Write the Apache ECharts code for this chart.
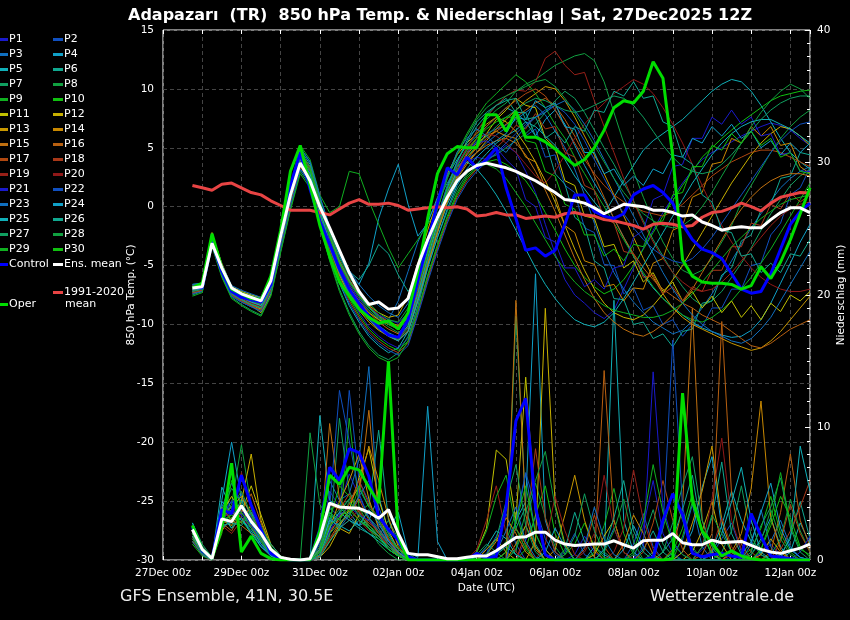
<!DOCTYPE html>
<html>
<head>
<meta charset="utf-8">
<script src="https://cdn.jsdelivr.net/npm/echarts@6.0.0/dist/echarts.min.js"></script>
<style>
  html, body { margin: 0; padding: 0; background: #000; }
  #chart { width: 850px; height: 620px; }
</style>
</head>
<body>
<div id="chart"></div>
<script>
// forecast hours after 27Dec 00z, 6-hourly
const hours = [18,24,30,36,42,48,54,60,66,72,78,84,90,96,102,108,114,120,126,132,138,144,150,156,
  162,168,174,180,186,192,198,204,210,216,222,228,234,240,246,252,258,264,270,276,282,288,294,300,
  306,312,318,324,330,336,342,348,354,360,366,372,378,384,390,396]
const xLabels = ['27Dec 00z','29Dec 00z','31Dec 00z','02Jan 00z','04Jan 00z','06Jan 00z','08Jan 00z','10Jan 00z','12Jan 00z']

// 850 hPa temperature (°C)
const ensMeanTemp = [-6.9,-6.8,-3.1,-5.2,-6.9,-7.4,-7.7,-8.0, -6.3,-2.5,1.0,3.7,2.2,0.0,-1.8,-3.7,
  -5.6,-7.2,-8.3,-8.1,-8.7,-8.6,-7.8,-5.0, -2.8,-0.9,0.8,2.2,3.0,3.5,3.7,3.5,
  3.3,3.0,2.6,2.2,1.7,1.2,0.6,0.5, 0.3,-0.1,-0.6,-0.2,0.2,0.1,0.0,-0.3,
  -0.3,-0.5,-0.8,-0.7,-1.3,-1.6,-2.0,-1.8, -1.7,-1.8,-1.8,-1.1,-0.5,-0.1,-0.1,-0.5]
const controlTemp = [-6.8,-6.9,-3.0,-5.5,-7.2,-7.7,-7.9,-8.1, -6.6,-2.5,1.8,4.6,1.5,-1.2,-3.2,-5.3,
  -7.0,-8.2,-9.3,-10.2,-10.9,-11.1,-9.6,-6.3, -3.0,0.3,3.3,2.7,4.2,3.3,4.0,5.0,
  1.6,-1.0,-3.7,-3.5,-4.2,-3.7,-1.5,1.0, 1.0,-0.4,-0.8,-1.0,-0.6,1.0,1.5,1.8,
  1.2,0.3,-1.5,-2.8,-3.6,-3.9,-4.4,-5.7, -7.0,-7.35,-7.2,-5.7,-3.6,-1.5,-0.4,0.3]
const operTemp = [-6.9,-6.5,-2.3,-5.2,-7.0,-7.4,-7.8,-7.9, -5.9,-2.0,3.0,5.2,1.8,-1.6,-4.2,-6.4,
  -7.6,-8.7,-9.4,-9.9,-9.7,-10.4,-9.0,-5.5, -1.0,2.8,4.5,5.1,5.0,5.0,7.8,7.8,
  6.4,8.1,5.9,5.9,5.5,4.9,4.2,3.5, 4.0,5.0,6.5,8.4,9.0,8.8,9.8,12.3,
  10.9,4.3,-4.5,-5.9,-6.4,-6.5,-6.5,-6.6, -7.0,-6.7,-5.1,-6.1,-4.7,-2.8,-0.6,1.6]
const climTemp = [1.8,1.6,1.4,1.9,2.0,1.6,1.2,1.0, 0.5,0.1,-0.3,-0.3,-0.3,-0.5,-0.7,-0.2,
  0.3,0.6,0.2,0.2,0.3,0.1,-0.3,-0.2, -0.1,0.0,-0.1,0.0,-0.2,-0.8,-0.7,-0.5,
  -0.7,-0.7,-1.0,-0.9,-0.8,-0.9,-0.6,-0.5, -0.7,-0.8,-1.1,-1.2,-1.4,-1.6,-1.9,-1.5,
  -1.4,-1.5,-1.7,-1.6,-0.9,-0.5,-0.4,-0.1, 0.3,0.0,-0.35,0.3,0.8,1.0,1.2,1.15]

const tP1 = [-7.2,-7.0,-3.0,-5.6,-7.3,-7.8,-8.1,-8.4, -6.8,-3.0,0.5,3.5,2.4,-0.8,-3.5,-5.8, -7.6,-9.0,-10.2,-11.0,-11.6,-12.0,-11.2,-8.5, -5.0,-2.0,0.8,2.5,3.8,4.2,4.0,4.5, 5.2,4.6,3.0,1.2,-1.5,-4.0,-6.2,-7.5, -8.2,-9.0,-9.5,-8.8,-7.0,-5.2,-3.5,-2.0, -0.5,0.8,2.0,3.1,4.0,4.6,5.0,5.5, 6.0,6.4,6.8,7.1,6.9,6.5,5.8,5.2]
const tP2 = [-6.8,-6.6,-2.6,-5.0,-6.9,-7.4,-7.6,-7.9, -6.2,-2.2,1.2,4.5,3.3,0.2,-2.6,-5.0, -6.8,-8.0,-8.8,-9.5,-10.0,-10.4,-9.6,-7.0, -4.0,-1.0,1.5,3.2,4.5,5.6,6.2,6.6, 6.9,7.8,6.0,6.6,4.2,4.4,1.8,1.2, -1.8,-2.2,-4.9,-5.0,-7.4,-6.9,-8.8,-8.4, -10.0,-9.6,-11.0,-10.0,-10.2,-8.6,-8.6,-7.0, -7.0,-5.0,-4.8,-2.4,-1.4,1.0,1.6,3.3]
const tP3 = [-7.0,-6.9,-2.9,-5.5,-7.2,-7.6,-8.0,-8.3, -6.6,-2.6,1.0,4.2,3.0,-0.3,-3.0,-5.3, -7.0,-8.3,-9.2,-10.0,-9.6,-8.0,-5.5,-3.0, -1.2,0.5,2.0,3.4,4.0,4.6,5.4,6.1, 6.7,7.4,8.0,8.6,7.8,6.4,5.0,3.2, 1.0,-1.4,-3.8,-5.6,-7.0,-8.1,-9.0,-9.8, -10.3,-10.8,-10.5,-9.7,-8.6,-7.4,-6.0,-4.6, -3.2,-1.8,-0.6,0.5,1.6,2.4,3.0,3.4]
const tP4 = [-6.9,-6.8,-2.5,-5.2,-7.0,-7.5,-7.8,-8.0, -6.4,-2.4,1.4,4.8,3.6,0.5,-2.2,-4.2, -5.8,-6.6,-4.8,-1.0,1.5,3.6,0.2,-2.5, -1.4,0.8,2.6,4.0,5.2,6.0,6.8,7.6, 8.4,8.0,7.2,6.0,7.4,8.2,7.0,5.2, 3.5,2.0,0.6,-1.0,-2.6,-4.2,-5.8,-6.9, -7.8,-8.5,-9.2,-9.8,-10.3,-10.6,-10.9,-11.1, -11.0,-10.5,-9.6,-8.2,-6.5,-4.8,-3.0,-1.5]
const tP5 = [-7.3,-7.2,-3.2,-5.8,-7.6,-8.1,-8.5,-8.8, -7.2,-3.5,0.2,3.2,2.0,-1.2,-4.0,-6.5, -8.4,-9.8,-11.0,-11.8,-12.4,-12.0,-10.6,-7.8, -4.8,-2.2,0.2,2.0,3.0,3.6,4.5,5.4, 6.0,6.5,7.2,6.8,6.0,5.2,4.0,2.6, 1.5,0.4,-0.6,0.8,2.2,3.5,4.8,5.6, 6.2,6.8,7.4,8.2,9.0,9.8,10.4,10.8, 10.6,9.8,8.6,7.2,5.8,4.6,3.8,3.2]
const tP6 = [-6.6,-6.5,-2.3,-4.9,-6.8,-7.2,-7.5,-7.8, -6.0,-2.0,1.6,5.0,3.8,0.8,-1.8,-4.0, -5.5,-6.2,-5.0,-3.2,-4.0,-5.8,-7.2,-6.0, -3.5,-0.8,1.8,3.8,5.6,7.2,8.0,8.6, 9.2,8.0,8.0,6.0,5.6,2.8,1.9,-0.9, -1.6,-4.6,-5.2,-7.8,-7.9,-10.0,-9.8,-11.2, -10.8,-11.9,-10.6,-10.4,-8.2,-8.0,-5.8,-5.2, -2.9,-2.4,-0.3,0.2,2.4,2.6,4.6,4.4]
const tP7 = [-7.5,-7.2,-3.3,-5.9,-7.7,-8.3,-8.8,-9.2, -7.5,-3.8,-0.2,3.0,1.8,-1.5,-4.5,-7.0, -9.0,-10.6,-11.8,-12.6,-13.0,-12.4,-11.0,-8.4, -5.2,-2.6,-0.4,1.5,2.8,3.6,4.0,4.4, 5.0,5.6,6.2,7.0,8.0,9.0,9.8,9.2, 8.0,6.5,5.0,3.6,2.0,0.5,-1.2,-2.8, -4.2,-5.6,-6.8,-7.8,-8.4,-8.0,-7.2,-6.0, -4.8,-3.5,-2.0,-0.6,0.6,1.8,2.6,3.2]
const tP8 = [-7.0,-6.7,-2.7,-5.3,-7.1,-7.6,-8.0,-8.3, -6.6,-2.7,0.8,4.0,2.8,-0.2,-2.8,-5.0, -6.6,-7.8,-8.8,-9.6,-10.2,-10.7,-10.0,-7.4, -4.2,-1.2,1.4,3.5,5.0,6.4,7.4,8.2, 8.8,9.8,10.4,10.8,11.4,12.0,12.4,12.8, 13.0,12.4,10.6,8.0,5.4,3.0,0.8,-1.2, -3.0,-4.4,-5.4,-5.8,-5.4,-4.4,-3.0,-1.6, 0.4,1.8,3.2,4.6,5.8,6.8,7.6,8.2]
const tP9 = [-6.8,-6.6,-2.4,-5.0,-6.9,-7.3,-7.6,-7.9, -6.1,-2.0,1.6,5.2,4.0,1.0,-0.5,0.0, 3.0,2.8,0.5,-1.5,-3.5,-5.2,-4.0,-2.8, -1.5,-0.2,2.4,4.6,6.2,7.6,8.8,9.6, 10.4,11.2,10.6,9.6,8.4,7.0,5.8,4.2, 2.8,1.4,0.0,-1.4,-2.8,-4.2,-5.6,-6.8, -7.8,-8.6,-9.2,-9.6,-9.8,-9.4,-8.8,-8.0, -7.0,-6.0,-4.8,-3.6,-2.2,-0.8,0.6,2.0]
const tP10 = [-7.1,-6.9,-2.9,-5.5,-7.3,-7.8,-8.2,-8.6, -7.0,-3.2,0.4,3.6,2.4,-0.8,-3.6,-6.0, -7.8,-9.2,-10.4,-11.2,-11.8,-12.2,-11.4,-8.8, -6.0,-3.4,-1.0,1.0,2.4,3.3,3.8,4.0, 3.6,3.0,2.2,1.0,-0.5,-2.0,-3.6,-5.0, -6.0,-6.8,-7.4,-7.0,-6.2,-5.0,-3.6,-2.2, -0.8,0.5,1.8,3.0,4.2,5.0,5.8,6.5, 7.2,7.8,8.4,9.0,9.4,9.6,9.8,9.9]
const tP11 = [-7.0,-6.8,-2.2,-5.0,-7.2,-7.8,-8.4,-9.0, -7.4,-3.4,0.2,3.4,2.2,-0.6,-3.2,-5.4, -7.0,-8.2,-9.0,-9.6,-10.0,-10.3,-9.4,-6.6, -3.8,-1.0,1.2,3.0,4.2,5.0,6.2,7.4, 8.2,9.2,8.6,8.4,5.8,5.0,2.2,1.8, -0.8,-1.0,-3.4,-3.2,-5.2,-4.6,-6.4,-5.6, -7.2,-6.4,-8.0,-7.2,-8.6,-7.6,-9.0,-8.0, -9.4,-8.4,-9.6,-8.2,-8.9,-7.5,-8.0,-7.2]
const tP12 = [-6.7,-6.6,-2.4,-4.8,-6.8,-7.2,-7.5,-7.7, -6.0,-2.3,1.4,4.6,3.4,0.4,-2.4,-4.6, -6.2,-7.4,-8.4,-9.0,-9.4,-9.2,-7.6,-4.8, -2.0,0.6,2.8,4.4,5.4,6.2,7.0,7.6, 7.2,6.4,5.2,3.8,2.2,0.4,-1.6,-3.6, -5.4,-7.0,-8.2,-9.0,-9.4,-9.6,-9.2,-8.4, -7.4,-6.2,-5.0,-3.6,-2.2,-0.8,0.6,2.0, 3.2,4.4,5.4,6.2,6.8,6.6,6.0,5.2]
const tP13 = [-7.4,-7.1,-3.1,-5.7,-7.5,-8.0,-8.4,-8.7, -7.0,-3.2,0.4,3.6,2.5,-0.6,-3.4,-5.8, -7.6,-8.8,-9.8,-10.5,-11.0,-11.3,-10.6,-8.0, -5.0,-2.2,0.4,2.4,3.6,4.6,5.6,6.6, 7.4,8.2,9.0,9.6,10.2,10.0,9.0,7.6, 6.0,4.4,2.8,1.0,-0.8,-2.6,-4.4,-6.0, -7.4,-8.6,-9.4,-10.0,-10.4,-10.8,-11.2,-11.6, -11.9,-12.2,-12.0,-11.4,-10.6,-9.6,-8.6,-7.6]
const tP14 = [-6.9,-6.8,-2.7,-5.3,-7.0,-7.5,-7.9,-8.2, -6.5,-2.6,1.0,4.2,3.0,0.0,-2.6,-4.8, -6.4,-7.6,-8.6,-9.2,-9.8,-10.1,-9.0,-6.4, -3.6,-1.0,1.2,3.0,4.4,5.4,6.0,6.4, 6.0,5.8,4.2,3.8,1.6,0.9,-1.6,-2.2, -4.6,-4.9,-6.8,-6.6,-8.0,-6.9,-7.0,-4.8, -4.4,-2.0,-1.6,0.8,1.2,3.6,3.8,5.8, 5.4,6.8,6.0,6.8,5.2,5.4,3.4,2.8]
const tP15 = [-7.2,-7.0,-3.0,-5.6,-7.4,-7.9,-8.3,-8.6, -6.9,-3.0,0.6,3.8,2.6,-0.5,-3.3,-5.6, -7.3,-8.5,-9.6,-10.4,-11.0,-11.4,-10.5,-7.8, -4.8,-2.0,0.6,2.6,3.8,4.6,5.2,5.6, 5.8,5.4,4.4,3.0,1.4,-0.4,-2.4,-4.4, -6.2,-7.8,-9.0,-9.8,-10.4,-10.8,-11.0,-10.6, -10.0,-9.2,-8.2,-7.0,-5.6,-4.2,-2.8,-1.4, -0.2,0.8,1.6,2.2,2.6,2.8,2.8,2.6]
const tP16 = [-7.0,-6.9,-2.8,-5.4,-7.2,-7.7,-8.1,-8.4, -6.7,-2.8,0.8,4.0,2.8,-0.2,-3.0,-5.2, -6.8,-8.0,-9.0,-9.8,-10.4,-10.8,-9.8,-7.2, -4.4,-1.6,0.8,2.8,4.0,5.0,5.8,6.4, 7.0,7.6,8.2,8.8,9.2,8.6,7.4,6.0, 4.4,2.6,0.8,-1.0,-2.6,-4.0,-5.2,-6.2, -7.0,-7.6,-8.2,-8.6,-9.2,-9.6,-10.0,-10.6, -11.2,-11.8,-12.0,-11.6,-11.0,-10.4,-10.0,-9.6]
const tP17 = [-6.8,-6.6,-2.5,-5.1,-6.9,-7.4,-7.7,-8.0, -6.3,-2.4,1.2,4.4,3.2,0.2,-2.4,-4.6, -6.2,-7.4,-8.4,-9.2,-9.8,-10.2,-9.4,-6.8, -4.0,-1.4,1.0,3.0,4.6,5.8,6.8,7.6, 8.4,9.0,9.6,10.0,9.4,8.2,6.8,5.4, 4.0,2.8,1.8,1.0,0.4,0.0,-0.4,-0.6, -0.8,-0.4,0.2,1.0,1.8,2.6,3.2,3.8, 4.2,4.6,4.8,4.8,4.6,4.2,3.8,3.4]
const tP18 = [-7.3,-7.1,-3.1,-5.7,-7.5,-8.0,-8.4,-8.8, -7.1,-3.3,0.3,3.4,2.2,-1.0,-3.8,-6.2, -8.0,-9.4,-10.6,-11.4,-12.0,-12.4,-11.6,-9.0, -6.2,-3.6,-1.2,0.8,2.2,3.2,4.2,5.0, 5.8,6.9,6.6,7.9,6.6,6.8,4.6,4.2, 1.8,1.4,-1.0,-1.4,-3.8,-4.0,-6.0,-5.8, -7.4,-6.8,-8.0,-6.8,-7.2,-5.4,-5.4,-3.4, -3.4,-1.4,-1.6,0.2,-0.2,1.2,0.4,1.0]
const tP19 = [-7.1,-6.9,-2.9,-5.5,-7.3,-7.8,-8.2,-8.5, -6.8,-2.9,0.7,3.9,2.7,-0.4,-3.2,-5.5, -7.2,-8.4,-9.4,-10.2,-10.8,-11.2,-10.2,-7.4, -4.4,-1.6,1.2,3.4,5.0,6.4,7.6,8.6, 9.4,9.9,9.8,10.6,12.6,13.2,12.0,11.2, 11.4,9.0,6.8,4.6,2.4,0.4,-1.4,-3.0, -4.4,-5.6,-6.4,-7.0,-7.2,-7.0,-6.4,-5.6, -4.6,-3.6,-2.6,-1.6,-0.8,-0.2,0.2,0.4]
const tP20 = [-6.9,-6.7,-2.6,-5.2,-7.0,-7.5,-7.8,-8.1, -6.4,-2.5,1.1,4.3,3.1,0.1,-2.6,-4.8, -6.4,-7.6,-8.6,-9.4,-10.0,-10.4,-9.4,-6.8, -4.0,-1.2,1.4,3.6,5.0,5.8,6.2,6.0, 5.4,4.6,3.6,2.6,2.0,3.0,4.4,5.8, 7.0,8.0,8.8,9.6,10.2,10.8,10.4,9.6, 8.4,7.0,5.4,3.6,1.8,0.0,-1.6,-3.0, -4.2,-5.2,-6.0,-6.6,-7.0,-7.2,-7.2,-7.0]
const tP21 = [-7.0,-6.8,-2.7,-5.3,-7.1,-7.6,-7.9,-8.2, -6.6,-2.7,0.9,4.1,2.9,-0.1,-2.8,-5.0, -6.6,-7.8,-8.6,-9.2,-9.6,-9.9,-9.0,-6.4, -3.6,-0.8,1.6,3.6,4.8,5.4,5.6,5.0, 4.0,3.2,0.6,0.0,-2.6,-3.0,-5.2,-5.2, -6.8,-6.2,-7.0,-5.2,-5.0,-2.6,-2.0,0.6, 1.0,3.4,3.6,5.8,5.8,7.6,7.0,8.2, 7.0,7.6,6.0,6.2,4.4,4.6,3.0,3.0]
const tP22 = [-7.4,-7.2,-3.2,-5.8,-7.6,-8.1,-8.5,-8.9, -7.3,-3.5,0.1,3.2,2.0,-1.2,-4.0,-6.4, -8.2,-9.6,-10.8,-11.6,-12.2,-12.6,-11.8,-9.2, -6.4,-3.8,-1.4,0.6,2.0,3.0,3.8,4.6, 5.4,6.2,7.0,7.6,8.2,8.6,8.0,7.0, 5.6,4.0,2.4,0.8,-0.6,-1.8,-2.8,-3.6, -4.2,-4.6,-4.8,-4.4,-3.6,-2.6,-1.4,-0.2, 1.0,2.2,3.4,4.6,5.6,6.4,7.0,7.2]
const tP23 = [-6.6,-6.5,-2.3,-4.9,-6.7,-7.1,-7.4,-7.7, -5.9,-2.0,1.7,5.0,3.8,0.9,-1.7,-3.8, -5.4,-6.6,-7.6,-8.4,-9.0,-9.4,-8.2,-5.4, -2.6,0.2,2.6,4.6,5.8,6.6,6.0,5.2, 4.6,5.8,6.8,7.6,8.0,8.6,9.0,8.2, 7.0,5.6,4.0,2.4,0.8,-0.8,-2.4,-4.0, -5.6,-7.0,-8.2,-9.2,-10.0,-10.6,-11.0,-11.4, -11.6,-11.2,-10.4,-9.4,-8.0,-6.6,-5.2,-3.8]
const tP24 = [-7.1,-7.0,-3.0,-5.6,-7.4,-7.9,-8.3,-8.6, -6.9,-3.0,0.6,3.8,2.6,-0.5,-3.3,-5.6, -7.4,-8.6,-9.6,-10.4,-11.0,-11.4,-10.6,-8.0, -5.2,-2.6,-0.2,1.8,3.2,4.2,5.0,5.6, 6.2,7.6,7.4,9.0,8.4,8.8,6.8,6.6, 4.6,4.6,2.8,3.2,1.8,2.6,1.8,3.2, 2.8,4.4,4.2,5.8,5.4,6.8,6.0,7.0, 5.8,6.4,5.0,5.6,4.4,5.4,4.6,5.4]
const tP25 = [-7.0,-6.9,-2.8,-5.4,-7.2,-7.7,-8.1,-8.4, -6.8,-2.8,0.8,4.0,2.8,-0.3,-3.1,-5.4, -7.1,-8.3,-9.3,-10.1,-10.7,-11.1,-10.1,-7.4, -4.4,-1.4,1.2,3.0,3.8,3.2,2.2,1.0, -0.4,-2.0,-3.6,-5.2,-6.6,-7.8,-8.8,-9.6, -10.0,-10.2,-9.8,-9.0,-7.8,-6.4,-5.0,-3.6, -2.2,-0.8,0.6,2.0,3.2,4.4,5.4,6.2, 6.8,7.2,7.4,7.4,7.0,6.6,6.0,5.4]
const tP26 = [-6.9,-6.8,-2.6,-5.2,-7.0,-7.4,-7.8,-8.1, -6.4,-2.5,1.1,4.3,3.1,0.2,-2.5,-4.7, -6.3,-7.5,-8.5,-9.3,-9.9,-10.3,-9.3,-6.6, -3.8,-1.0,1.6,3.8,5.4,6.8,7.8,8.6, 9.0,9.2,7.4,7.6,5.8,6.4,5.4,6.8, 6.4,8.2,8.0,9.8,9.4,10.6,9.2,9.4, 7.2,6.8,4.2,3.6,1.0,0.4,-2.0,-2.2, -4.2,-4.0,-5.6,-4.8,-5.6,-4.0,-4.2,-2.8]
const tP27 = [-7.2,-7.0,-3.0,-5.6,-7.4,-7.9,-8.3,-8.6, -6.9,-3.0,0.6,3.8,2.6,-0.5,-3.3,-5.6, -7.3,-8.5,-9.5,-10.3,-10.9,-11.3,-10.3,-7.6, -4.6,-1.8,0.8,2.8,4.2,5.2,6.0,6.8, 7.6,8.2,8.8,9.2,9.0,8.6,8.2,8.0, 8.2,8.6,9.0,9.4,9.2,8.6,7.6,6.4, 5.2,4.2,3.4,3.0,2.8,3.0,3.6,4.4, 5.4,6.4,7.4,8.2,8.8,9.2,9.4,9.4]
const tP28 = [-6.8,-6.6,-2.5,-5.1,-6.9,-7.3,-7.6,-7.9, -6.2,-2.2,1.4,4.6,3.4,0.5,-2.2,-4.4, -6.0,-7.2,-8.2,-9.0,-9.6,-9.8,-8.6,-5.8, -3.0,-0.2,2.4,4.4,6.0,7.4,8.4,9.0, 9.4,9.8,10.2,10.6,10.8,10.2,9.2,8.0, 6.6,5.2,3.8,2.4,1.2,0.2,-0.6,-1.2, -1.6,-1.8,-1.6,-1.0,0.0,1.2,2.6,4.0, 5.4,6.8,8.0,9.0,9.8,10.4,10.0,9.2]
const tP29 = [-7.6,-7.3,-3.4,-6.0,-7.8,-8.4,-8.9,-9.3, -7.6,-3.9,-0.3,2.8,1.6,-1.6,-4.6,-7.2, -9.2,-10.8,-12.0,-12.8,-13.2,-12.8,-11.4,-8.8, -5.8,-3.2,-0.8,1.2,2.6,3.4,3.6,3.2, 2.4,1.2,0.0,-1.4,-2.8,-4.2,-5.4,-6.4, -7.2,-7.8,-8.4,-8.8,-9.0,-9.2,-9.4,-9.4, -9.2,-8.8,-8.2,-7.4,-6.4,-5.4,-4.4,-3.4, -2.6,-1.8,-1.0,-0.4,0.2,0.6,0.8,1.0]
const tP30 = [-6.9,-6.7,-2.6,-5.2,-7.0,-7.5,-7.8,-8.1, -6.4,-2.5,1.1,4.3,3.1,0.1,-2.6,-4.8, -6.4,-7.6,-8.6,-9.4,-10.0,-10.4,-9.4,-6.8, -4.0,-1.2,1.4,3.4,4.8,5.8,6.6,7.2, 7.6,7.6,5.6,5.4,3.0,2.6,0.2,-0.2, -2.4,-2.4,-4.2,-3.6,-4.6,-3.2,-3.4,-1.4, -1.2,1.0,1.2,3.4,3.4,5.2,4.8,6.2, 5.4,6.4,5.2,5.8,4.2,4.6,3.0,2.8]

// 6-hourly precipitation (mm)
const ensMeanPrecip = [2.3,0.8,0.1,3.1,2.9,4.1,2.9,2.0,0.8,0.2, 0.05,0,0.1, 1.7,4.3,4.0,3.95,3.9,3.6,3.15,3.8,2.0,0.5,
  0.4,0.4,0.25,0.1,0.1,0.2,0.3,0.3,0.7, 1.2,1.7,1.75,2.1,2.1,1.5,1.2,1.1, 1.15,1.2,1.2,1.45,1.15,0.9,1.45,1.5,
  1.5,2.0,1.3,1.15,1.15,1.5,1.3,1.35, 1.4,1.1,0.8,0.6,0.5,0.7,0.9,1.2]
const controlPrecip = [2.5,0.7,0.1,3.8,3.5,6.4,4.15,2.3,0.5,0.1, 0,0,0, 2.3,7.0,6.0,8.4,8.1,6.3,3.3,2.3,1.5,0.25,
  0,0,0,0,0,0,0.5,0.1,0.3, 4.0,10.5,12.2,4.0,0.4,0,0,0, 0,0,0,0,0,0,0,0.2,
  3.0,5.0,3.4,0.5,0.25,0.4,0.5,0.3, 0.2,3.5,1.8,0.3,0.2,0.1,0,0]
const operPrecip = [2.6,0.8,0.1,2.5,7.3,0.6,1.8,0.5,0.1,0, 0,0,0, 2.2,6.4,5.7,7.0,6.8,5.5,4.3,15.0,1.8,0,
  0,0,0,0,0,0,0,0,0, 0,0,0,0,0,0,0,0, 0,0,0,0,0,0,0,0,
  0,0.1,12.6,4.5,2.2,1.3,0.3,0.7, 0.3,0.1,0,0,0,0,0,0]

const rP1 = [2.2,0.6,0,3.0,4.5,3.8,2.6,1.2,0.3,0, 0,0,0, 1.0,5.2,4.0,6.5,4.8,3.2,2.0,1.2,0.4,0, 0,0,0,0,0,0,0.3,0.8,0.2, 0,0,1.5,3.2,0.8,0,0,0.4, 1.8,0.6,0,0,0,0,2.5,6.0, 2.0,0.5,0,0,0.8,1.5,0.3,0, 0,0,0.5,1.2,0.4,0,0,0]
const rP2 = [1.8,0.4,0,2.6,3.6,5.0,3.2,1.8,0.6,0.1, 0,0,0, 0.6,4.0,3.2,12.8,6.0,4.4,2.6,1.8,0.8,0.2, 0,0,0,0,0,0,0,0.5,1.8, 3.5,1.2,0,0,0,0,0.6,2.0, 0.4,0,0,0,0,1.2,3.5,1.0, 0,0,0,0,0,0.4,1.6,2.8, 0.6,0,0,0,0.3,0.8,0.2,0]
const rP3 = [2.6,0.9,0.1,4.0,5.8,4.2,3.0,1.6,0.5,0, 0,0,0, 2.2,6.0,4.5,5.0,7.6,14.6,3.0,1.5,0.6,0.1, 0,0,0,0,0,0,0,0,0.4, 1.2,2.8,6.5,2.0,0.4,0,0,0, 0,0,0.8,2.4,0.6,0,0,0, 0,0.5,1.5,4.2,1.0,0,0,0, 0,0,0.6,1.4,3.0,1.0,0.2,0]
const rP4 = [2.0,0.5,0,4.5,8.9,4.6,2.6,1.4,0.3,0, 0,0,0, 1.4,3.6,2.6,3.6,2.6,3.0,4.8,2.2,3.6,0.6, 0.2,11.6,1.4,0,0,0,0,0,0, 0,3.0,4.4,21.6,3.0,0.6,0,0, 0,1.0,0.4,0,0,0,0,0, 0,0,0.6,2.2,5.5,7.8,2.4,0.6, 0,0.4,1.6,3.2,1.0,0,0,0]
const rP5 = [2.4,0.8,0.1,5.5,3.8,3.0,2.2,1.0,0.4,0, 0,0,0, 10.9,4.5,4.0,3.2,2.6,2.0,1.4,0.8,0.3,0, 0,0,0,0,0,0,0.2,1.0,2.2, 1.6,0.4,0,0,0,0,0,0, 0,0,0,19.6,3.0,0.6,0,0, 0,0,0,0,0,0.8,2.6,5.2, 3.0,1.4,0.4,0,0,0.6,2.8,1.2]
const rP6 = [1.6,0.5,0,2.4,3.0,4.6,3.6,1.8,0.5,0, 0,0,0, 0.4,2.8,3.6,4.6,5.4,4.0,9.8,3.0,1.2,0.2, 0,0,0,0,0,0,0,0,0, 0.6,2.4,4.0,1.2,0,0,0.8,3.6, 1.4,0.2,0,0,0,0,0.8,2.2, 0.6,0,0,0,1.0,3.2,7.4,2.0, 0.4,0,0,0,0.2,1.8,4.4,1.6]
const rP7 = [2.8,1.2,0.2,3.4,2.4,4.0,3.0,2.2,1.0,0.2, 0,0,0, 0.2,1.8,10.7,5.2,3.6,2.4,1.8,3.0,1.6,0.5, 0,0,0,0,0,0,0.4,1.2,0.6, 0,18.4,4.0,1.0,0,0,0,0, 0,0,0,0,0,0.4,1.6,3.8, 1.2,0.3,0,0,0,0,0.6,2.2, 5.6,1.8,0.4,0,0,0,0,0]
const rP8 = [2.0,0.6,0,3.2,4.2,8.7,4.0,1.6,0.4,0, 0,0,9.6, 4.2,3.0,3.8,4.6,3.2,2.4,1.2,0.5,0,0, 0,0,0,0,0,0,0,0,0, 0,0.8,2.6,5.8,3.2,1.0,0,0, 0,0,0,0,0,0,0,0.6, 2.4,5.0,3.0,1.0,0,0,0,0, 0,0,0,0.4,1.6,4.6,2.2,0.6]
const rP9 = [2.4,0.8,0.1,2.8,3.4,3.0,2.0,1.2,0.4,0, 0,0,0, 1.6,3.4,2.2,10.7,4.0,2.6,2.0,1.6,0.8,0.3, 0,0,0,0,0,0,0,0,0.5, 1.4,3.6,1.0,0,0,0,0,0, 0,0.6,2.6,5.4,2.0,0.4,0,0, 0,0,1.8,4.4,2.0,0.4,0,0, 0,0,0,0,0,0,0,0]
const rP10 = [1.2,0.3,0,2.0,6.0,4.0,2.8,1.8,0.8,0.1, 0,0,0, 0.8,3.0,5.6,4.8,3.6,4.2,3.2,2.0,0.8,0.2, 0,0,0,0,0,0,0,0,0, 0,0,0.8,3.4,5.6,2.0,0.4,1.2, 2.8,1.0,0.2,0,0,0,0,0, 0,0,0,0,0,0,0,0, 0.3,0.8,2.4,4.8,2.0,0.6,0,0]
const rP11 = [2.2,0.7,0.1,3.6,4.8,3.6,5.6,3.4,1.2,0.3, 0,0,0, 0.3,1.4,2.6,3.8,6.2,8.4,4.6,2.2,0.8,0.2, 0,0,0,0,0,0,0.6,2.4,8.3, 7.6,3.0,13.8,3.4,0.8,0,0,0, 0,0.4,1.8,3.0,0.6,0,0,0, 0,0,0,0,0,0,0,0, 0,0,0,0,0,0,0,0]
const rP12 = [1.8,0.5,0,3.0,2.6,4.4,8.0,3.0,1.0,0.2, 0,0,0, 0.2,1.0,2.4,2.0,3.4,2.6,1.8,1.0,0.4,0, 0,0,0,0,0,0,0,0.8,1.6, 0.6,0,0,1.4,19.0,4.2,1.2,0, 0,0,0,0,0,0,0,0, 0,0,0,0.6,2.2,4.4,1.2,0, 0,0,0,0,0,0,0,0]
const rP13 = [2.0,0.6,0,3.4,4.0,4.8,3.4,1.8,0.6,0, 0,0,0, 0.6,2.4,4.4,6.0,8.0,4.6,2.4,1.2,0.5,0.1, 0,0,0,0,0,0,0,0,0, 0,1.2,2.6,1.0,0,0.8,3.4,6.4, 3.0,0.8,0,0,0,0,0,0, 0,0,0.6,2.8,5.2,8.6,3.0,0.6, 0,0,0.4,1.6,0.6,0,0,0]
const rP14 = [1.4,0.4,0,2.2,3.2,2.8,4.2,2.2,0.8,0.1, 0,0,0, 0.4,2.0,3.2,4.2,5.6,8.6,6.0,3.2,1.0,0.2, 0,0,0,0,0,0,0,0.4,1.4, 3.2,2.0,0.6,0,0,0,0,0, 0,0,0,0,1.2,3.4,2.0,0.4, 0,0,0,0,0,0,0,0.6, 2.0,5.4,12.0,3.2,0.8,0,0,0]
const rP15 = [2.6,1.0,0.2,4.0,3.0,2.6,2.0,1.6,0.6,0, 0,0,0, 0.8,10.3,4.6,3.6,4.8,11.3,3.4,1.6,0.6,0, 0,0,0,0,0,0,0,0,0, 0,19.6,3.4,0.8,0,0,0,0, 0,0,0,0,0,0,0,0, 0,0.8,4.0,19.0,3.0,0.6,0,0, 0,0,0,0,0,0,0,0]
const rP16 = [1.6,0.5,0,2.8,2.2,3.6,5.0,2.8,1.0,0.2, 0,0,0, 0.3,1.6,2.8,3.4,4.6,3.0,2.0,1.0,0.3,0, 0,0,0,0,0,0,0,0,0, 0,0,0,0,0,0,0,0, 0,0,14.3,3.0,0.6,0,0,0, 0,0,0,0,0.4,2.0,18.0,5.0, 1.2,0,0,0.6,3.6,8.0,3.0,1.0]
const rP17 = [2.2,0.8,0.1,3.2,3.6,3.2,2.6,1.4,0.4,0, 0,0,0, 0.6,4.2,3.8,5.0,3.6,2.8,2.2,1.4,0.6,0.1, 0,0,0,0,0,0,0,0,0, 0.6,2.4,1.2,0,0,0,0,0, 0.8,3.4,1.0,0,0,0,0.6,2.8, 6.0,3.0,0.8,0,0,0,0,0.4, 1.6,0.6,0,0,1.4,4.2,2.0,0.6]
const rP18 = [1.8,0.6,0,3.8,3.0,4.0,3.0,1.8,0.6,0.1, 0,0,0, 0.2,2.2,3.0,4.2,6.0,4.2,3.0,1.6,0.6,0, 0,0,0,0,0,0,0,0,0, 0,0,2.0,8.4,3.2,0.6,0,0, 0,0,0,0,0,0,0,0, 0,0,0,0,0,0,0,0, 0,0,0,0,0.8,2.2,4.0,6.0]
const rP19 = [2.0,0.7,0.1,2.6,2.0,3.0,2.6,1.4,0.4,0, 0,0,0, 0.4,2.6,3.4,4.0,3.0,2.2,1.8,1.2,0.4,0, 0,0,0,0,0,0,0.8,3.0,5.6, 2.0,0.6,0,0,1.2,4.8,2.2,0.4, 0,0,0,0.6,2.4,6.8,3.0,0.8, 0,0,0,0,0,0.8,3.2,1.0, 0,0,0,0,0,0,0,0]
const rP20 = [1.6,0.4,0,3.0,2.8,6.6,3.8,2.0,0.6,0, 0,0,0, 0.2,1.6,2.4,3.0,3.8,2.6,1.8,1.0,0.4,0, 0,0,0,0,0,0,0,0,0, 0,0,0,0,0,0,0,0, 0.6,2.0,6.4,2.4,0.6,0,0,0, 0,0,0,0,1.0,4.6,9.2,3.0, 0.8,0,0,0,0,0,0,0]
const rP21 = [2.2,0.6,0,3.0,3.8,3.4,2.4,1.2,0.4,0, 0,0,0, 0.4,2.2,3.4,4.0,3.4,3.0,2.2,1.2,0.4,0, 0,0,0,0,0,0,0,0,0, 0,0,0,0,0,0,0,0, 0,0,0,0,0,0,1.0,14.2, 4.0,1.4,0.4,0,0,0,0,0, 0,0,0,0,0,0,0.6,1.8]
const rP22 = [2.4,0.8,0.1,3.6,4.4,3.6,2.6,1.6,0.6,0, 0,0,0, 1.2,4.0,12.8,9.0,5.0,3.2,2.4,1.4,0.6,0.2, 0,0,0,0,0,0,0,0,0, 0,3.0,6.6,4.0,1.6,0.4,0,0, 0,0,0,0,0,0,0,0, 2.4,16.6,4.0,0.8,0,0,0,0, 0,0,0,0,0,0,0,0]
const rP23 = [1.4,0.4,0,2.4,3.0,4.2,2.8,1.4,0.4,0, 0,0,0, 0.6,3.2,2.4,3.4,4.8,6.0,4.0,2.0,0.8,0.2, 0,0,0,0,0,0,0,0,0.6, 2.2,4.0,1.4,0.2,0,0,0,0, 1.0,4.0,1.6,0.4,0,0,0,0, 0,0,0,0,0,0,0,0, 0,1.2,3.8,1.0,0,0,0,0]
const rP24 = [2.8,1.0,0.2,4.4,3.6,3.0,2.4,1.2,0.4,0, 0,0,0, 0.4,2.4,3.6,3.0,2.6,3.8,2.8,1.4,0.6,0, 0,0,0,0,0,0,0,0,0, 0,0,0,0,0.6,2.4,1.0,0, 0,0,0,0,0.8,2.6,1.0,0.2, 0,0,0,0,0,0,0,0, 0.4,1.4,3.6,5.8,2.4,0.8,0.2,0]
const rP25 = [2.0,0.6,0,3.4,2.4,3.2,2.0,1.0,0.3,0, 0,0,0, 0.8,3.0,2.6,2.2,3.0,2.4,1.8,0.8,0.3,0, 0,0,0,0,0,0,0,0,0, 0,0,0,0,0,0,0,0, 0,0,0,0,0,0,0,0, 0,0,0,0,0,0.6,2.0,4.4, 7.0,3.0,0.6,0,0.4,1.6,8.6,5.2]
const rP26 = [1.8,0.5,0,2.6,2.8,2.6,3.6,2.4,1.2,0.3, 0,0,0, 0.2,1.4,2.4,3.0,2.4,2.0,1.6,1.0,0.4,0, 0,0,0,0,0,0,0,0,0.4, 1.0,0.4,0,0,0,0,0,0, 0,0,0.8,3.2,6.0,2.2,0.6,0, 0.6,1.6,3.8,6.4,2.0,0.4,0,0, 0,0,0,0,0,0,0,0]
const rP27 = [2.4,0.8,0.1,3.8,5.4,4.4,3.0,1.6,0.4,0, 0,0,0, 0.4,2.0,2.8,3.6,4.0,3.2,2.2,1.2,0.4,0, 0,0,0,0,0,0,0,0.4,1.6, 4.4,7.2,2.6,0.6,0,0,0.4,1.8, 5.0,2.2,0.6,0,0,0,0,0, 0.6,2.8,5.6,7.8,3.0,1.0,0,0, 0,0.6,2.6,4.0,6.2,2.4,0.6,0]
const rP28 = [1.6,0.5,0,3.2,4.0,5.2,3.4,1.8,0.5,0, 0,0,0, 0.6,3.6,3.0,4.4,3.4,2.6,1.8,1.0,0.4,0, 0,0,0,0,0,0,0,0,0, 0,0.8,3.6,6.0,8.2,4.0,1.0,0, 0,0,0.6,2.2,4.6,1.4,0,0, 0,0,0,0,1.0,3.4,2.0,0.6, 0,0.4,1.4,3.8,1.6,0.4,0,0]
const rP29 = [2.2,0.6,0,3.0,3.4,2.8,3.8,2.6,1.0,0.2, 0,0,0, 1.0,3.8,4.2,3.2,5.6,4.0,3.0,1.8,0.8,0.2, 0,0,0,0,0,0,0.6,2.2,4.8, 6.4,2.4,0.8,0,0,0,0,0, 0,0,0,0,0,0.6,3.0,7.2, 3.6,1.2,0.4,0,0,0,0,0, 0,0,0.8,3.0,6.6,2.6,0.8,0.4]
const rP30 = [2.0,0.6,0,2.8,3.2,3.6,2.4,1.4,0.4,0, 0,0,0, 0.6,2.6,3.2,3.8,3.0,2.4,1.6,0.8,0.3,0, 0,0,0,0,0,0,0,0,0, 0.6,2.8,5.6,2.0,0.4,0,0,0, 0,0,0,0,0,0,0,0, 0,0.6,2.4,5.0,2.2,0.4,0,0, 0,0,0.8,2.6,4.8,3.2,1.0,0.2]

const memberTemps = [tP1,tP2,tP3,tP4,tP5,tP6,tP7,tP8,tP9,tP10,tP11,tP12,tP13,tP14,tP15,
  tP16,tP17,tP18,tP19,tP20,tP21,tP22,tP23,tP24,tP25,tP26,tP27,tP28,tP29,tP30]
const memberPrecip = [rP1,rP2,rP3,rP4,rP5,rP6,rP7,rP8,rP9,rP10,rP11,rP12,rP13,rP14,rP15,
  rP16,rP17,rP18,rP19,rP20,rP21,rP22,rP23,rP24,rP25,rP26,rP27,rP28,rP29,rP30]

// colour cycle of the perturbations (P1-P20, then again from P21)
const memberColors = ['#1a1acc','#1050c0','#1070c0','#10a0c8','#10b0b8','#10a890','#10a060','#10a040','#10b020','#10c010',
  '#c0c000','#c8b000','#c89800','#c88800','#c07010','#b86010','#b04810','#a83818','#982018','#901818']

const font = 'DejaVu Sans'

function pairs(vals) {
  return vals.map((v, i) => [hours[i], v])
}

function line(name, vals, axis, color, width) {
  return {
    name: name,
    type: 'line',
    yAxisIndex: axis,
    data: pairs(vals),
    symbol: 'none',
    silent: true,
    itemStyle: { color: color },
    lineStyle: { color: color, width: width }
  }
}

let memberNames = memberTemps.map((t, i) => 'P' + (i + 1))
let series = []
memberTemps.forEach((t, i) => {
  let c = memberColors[i % 20]
  series.push(line(memberNames[i], t, 0, c, 1))
  series.push(line(memberNames[i], memberPrecip[i], 1, c, 1))
})
series.push(line('1991-2020 mean', climTemp, 0, '#e84444', 3))
series.push(line('Control', controlTemp, 0, '#0000ff', 3))
series.push(line('Control', controlPrecip, 1, '#0000ff', 3))
series.push(line('Oper', operTemp, 0, '#00dd00', 3))
series.push(line('Oper', operPrecip, 1, '#00dd00', 3))
series.push(line('Ens. mean', ensMeanTemp, 0, '#ffffff', 3))
series.push(line('Ens. mean', ensMeanPrecip, 1, '#ffffff', 3))

let legendBase = {
  orient: 'vertical',
  icon: 'rect',
  itemWidth: 8,
  itemHeight: 3,
  itemGap: 2,
  padding: 0,
  inactiveColor: '#555',
  textStyle: { color: '#fff', fontSize: 11, fontFamily: font, lineHeight: 13, padding: [0, 0, 0, -4] }
}

let axisText = { color: '#fff', fontSize: 10.5, fontFamily: font }
let gridLine = { show: true, lineStyle: { color: '#444', type: [4, 3], width: 1 } }
let noLine = { show: false, onZero: false }
let whiteTick = { color: '#fff', width: 1 }

let chart = echarts.init(document.getElementById('chart'), null, { renderer: 'canvas' })
chart.setOption({
  backgroundColor: '#000',
  animation: false,
  title: {
    text: 'Adapazarı  (TR)  850 hPa Temp. & Niederschlag | Sat, 27Dec2025 12Z',
    left: 123,
    top: 3,
    textStyle: { color: '#fff', fontSize: 16, fontWeight: 'bold', fontFamily: font }
  },
  legend: [
    Object.assign({}, legendBase, { left: 0, top: 33, data: memberNames.filter((n, i) => i % 2 === 0).concat(['Control']) }),
    Object.assign({}, legendBase, { left: 53, top: 33, itemWidth: 10, data: memberNames.filter((n, i) => i % 2 === 1).concat(['Ens. mean']) }),
    Object.assign({}, legendBase, { left: 0, top: 298, data: ['Oper'] }),
    Object.assign({}, legendBase, { left: 53, top: 286, itemWidth: 10, data: ['1991-2020 mean'], formatter: () => '1991-2020' })
  ],
  grid: {
    left: 163, right: 40, top: 30, bottom: 60,
    outerBoundsMode: 'none',
    show: true, borderColor: '#fff', borderWidth: 1, backgroundColor: 'transparent'
  },
  xAxis: [
    {
      type: 'value', min: 0, max: 396, interval: 24,
      axisLine: noLine,
      axisTick: { show: true, inside: true, length: 4, lineStyle: whiteTick },
      axisLabel: Object.assign({}, axisText, {
        margin: 8, showMaxLabel: false,
        formatter: v => (v % 48 === 0 ? xLabels[v / 48] : '')
      }),
      splitLine: gridLine,
      name: 'Date (UTC)', nameLocation: 'middle', nameGap: 23, nameMoveOverlap: false,
      nameTextStyle: axisText
    },
    {
      type: 'value', position: 'top', min: 0, max: 396, interval: 24,
      axisLine: noLine,
      axisTick: { show: true, inside: true, length: 4, lineStyle: whiteTick },
      axisLabel: { show: false },
      splitLine: { show: false }
    }
  ],
  yAxis: [
    {
      type: 'value', min: -30, max: 15, interval: 5,
      axisLine: noLine,
      axisTick: { show: false },
      axisLabel: Object.assign({}, axisText, { margin: 9 }),
      splitLine: gridLine,
      name: '850 hPa Temp. (°C)', nameLocation: 'middle', nameRotate: 90, nameGap: 26, nameMoveOverlap: false,
      nameTextStyle: axisText
    },
    {
      type: 'value', min: 0, max: 40, interval: 10, position: 'right',
      axisLine: noLine,
      axisTick: { show: true, inside: true, length: 5, lineStyle: whiteTick },
      axisLabel: Object.assign({}, axisText, { margin: 7 }),
      splitLine: { show: false },
      name: 'Niederschlag (mm)', nameLocation: 'middle', nameRotate: 90, nameGap: 26, nameMoveOverlap: false,
      nameTextStyle: axisText
    },
    {
      // 1 mm tick marks along the precipitation axis
      type: 'value', min: 0, max: 40, interval: 1, position: 'right',
      axisLine: noLine,
      axisTick: { show: true, inside: true, length: 3, lineStyle: whiteTick },
      axisLabel: { show: false },
      splitLine: { show: false }
    }
  ],
  graphic: [
    { type: 'text', left: 65, top: 299, style: { text: 'mean', fill: '#fff', font: '11px "DejaVu Sans"' } },
    { type: 'text', left: 120, top: 589, style: { text: 'GFS Ensemble, 41N, 30.5E', fill: '#eee', font: '16px "DejaVu Sans"' } },
    { type: 'text', left: 650, top: 589, style: { text: 'Wetterzentrale.de', fill: '#eee', font: '16px "DejaVu Sans"' } }
  ],
  series: series
})
</script>
</body>
</html>
